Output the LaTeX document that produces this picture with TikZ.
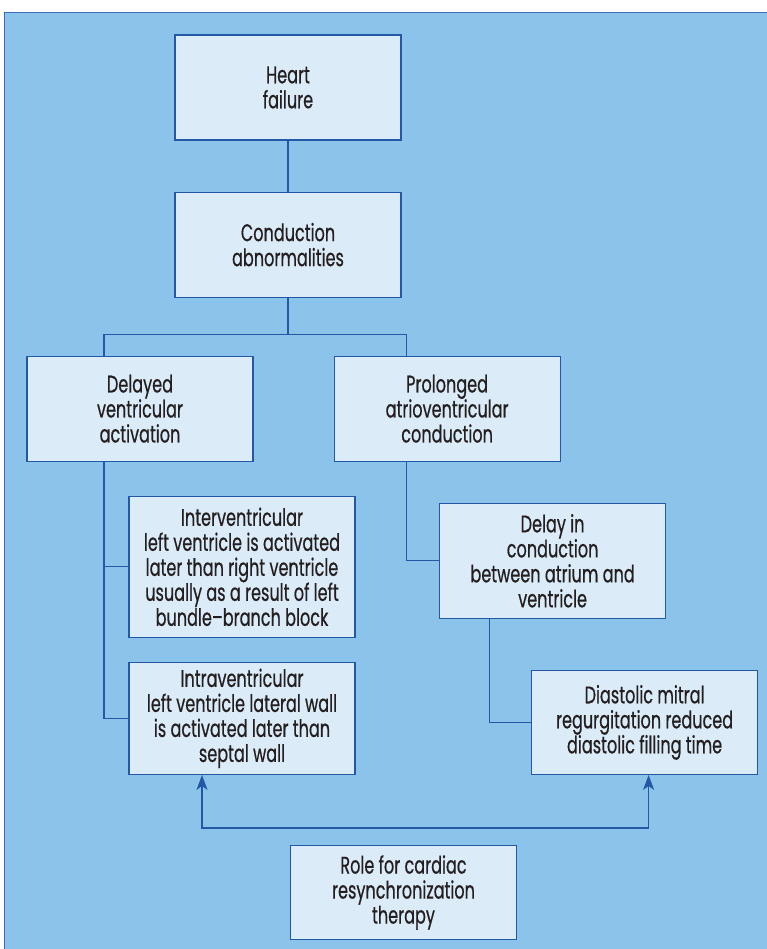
\documentclass[tikz,border=0pt]{standalone}
\usepackage{fontspec}
\setmainfont{Poppins}[FakeStretch=0.67, FakeBold=0.5]
\usepackage{xcolor}
\usepackage{tikz}
\usetikzlibrary{arrows.meta,positioning}
\definecolor{panelblue}{HTML}{8CC3EA}
\definecolor{frameblue}{HTML}{3D6DB4}
\definecolor{boxfill}{HTML}{DBEBF8}
\definecolor{edgeblue}{HTML}{2358A4}
\definecolor{inkgray}{HTML}{231F20}

\begin{document}
\begin{tikzpicture}[
    x=1pt, y=-1pt,
    box/.style={draw=edgeblue, fill=boxfill, line width=1.1pt, align=center, inner sep=0pt, minimum width=226pt, minimum height=105pt, text=inkgray, font=\fontsize{24}{25}\selectfont},
    link/.style={draw=edgeblue, line width=1.1pt},
    arrow/.style={link, {Stealth[length=15pt,width=11pt,inset=4pt]}-{Stealth[length=15pt,width=11pt,inset=4pt]}}
]
\useasboundingbox (0,0) rectangle (766,949);
\fill[panelblue] (4.5,12.5) rectangle (770,955);
\draw[frameblue, line width=1.6pt] (4.5,955) -- (4.5,12.5) -- (770,12.5);
\node[box] (heart) at (288,87.5) {Heart\\failure};
\node[box, below=51pt of heart] (cond) {Conduction\\abnormalities};
\node[box, below=58pt of cond, xshift=-148pt] (delayed) {Delayed\\ventricular\\activation};
\node[box, right=80pt of delayed] (prolonged) {Prolonged\\atrioventricular\\conduction};
\node[box, below=34pt of delayed, xshift=102pt, minimum height=141pt] (inter) {Interventricular\\left ventricle is activated\\later than right ventricle\\usually as a result of left\\bundle--branch block};
\node[box, below=24pt of inter, minimum height=112pt] (intra) {Intraventricular\\left ventricle lateral wall\\is activated later than\\septal wall};
\node[box, below=41pt of prolonged, xshift=105.5pt, minimum height=115pt] (delay) {Delay in\\conduction\\between atrium and\\ventricle};
\node[box, below=51pt of delay, xshift=92pt, minimum height=104pt] (diast) {Diastolic mitral\\regurgitation reduced\\diastolic filling time};
\node[box, below=70pt of intra, xshift=161.5pt, minimum height=94pt] (role) {Role for cardiac\\resynchronization\\therapy};
\coordinate (fork) at ([yshift=-37pt]cond.south);
\coordinate (rail) at ([xshift=4pt, yshift=-53pt]diast.south);
\draw[link] (heart) -- (cond);
\draw[link] (cond) -- (fork);
\draw[link] ([xshift=-36pt]delayed.north) |- (fork) -| ([xshift=-40.5pt]prolonged.north);
\draw[link] ([xshift=-36pt]delayed.south) |- (intra.west);
\draw[link] (inter.west) -| ([xshift=-36pt]delayed.south);
\draw[link] ([xshift=-40.5pt]prolonged.south) |- (delay.west);
\draw[link] ([xshift=-63pt]delay.south) |- (diast.west);
\draw[arrow] ([xshift=-40pt]intra.south) |- (rail) -- ([xshift=4pt]diast.south);
\end{tikzpicture}
\end{document}
